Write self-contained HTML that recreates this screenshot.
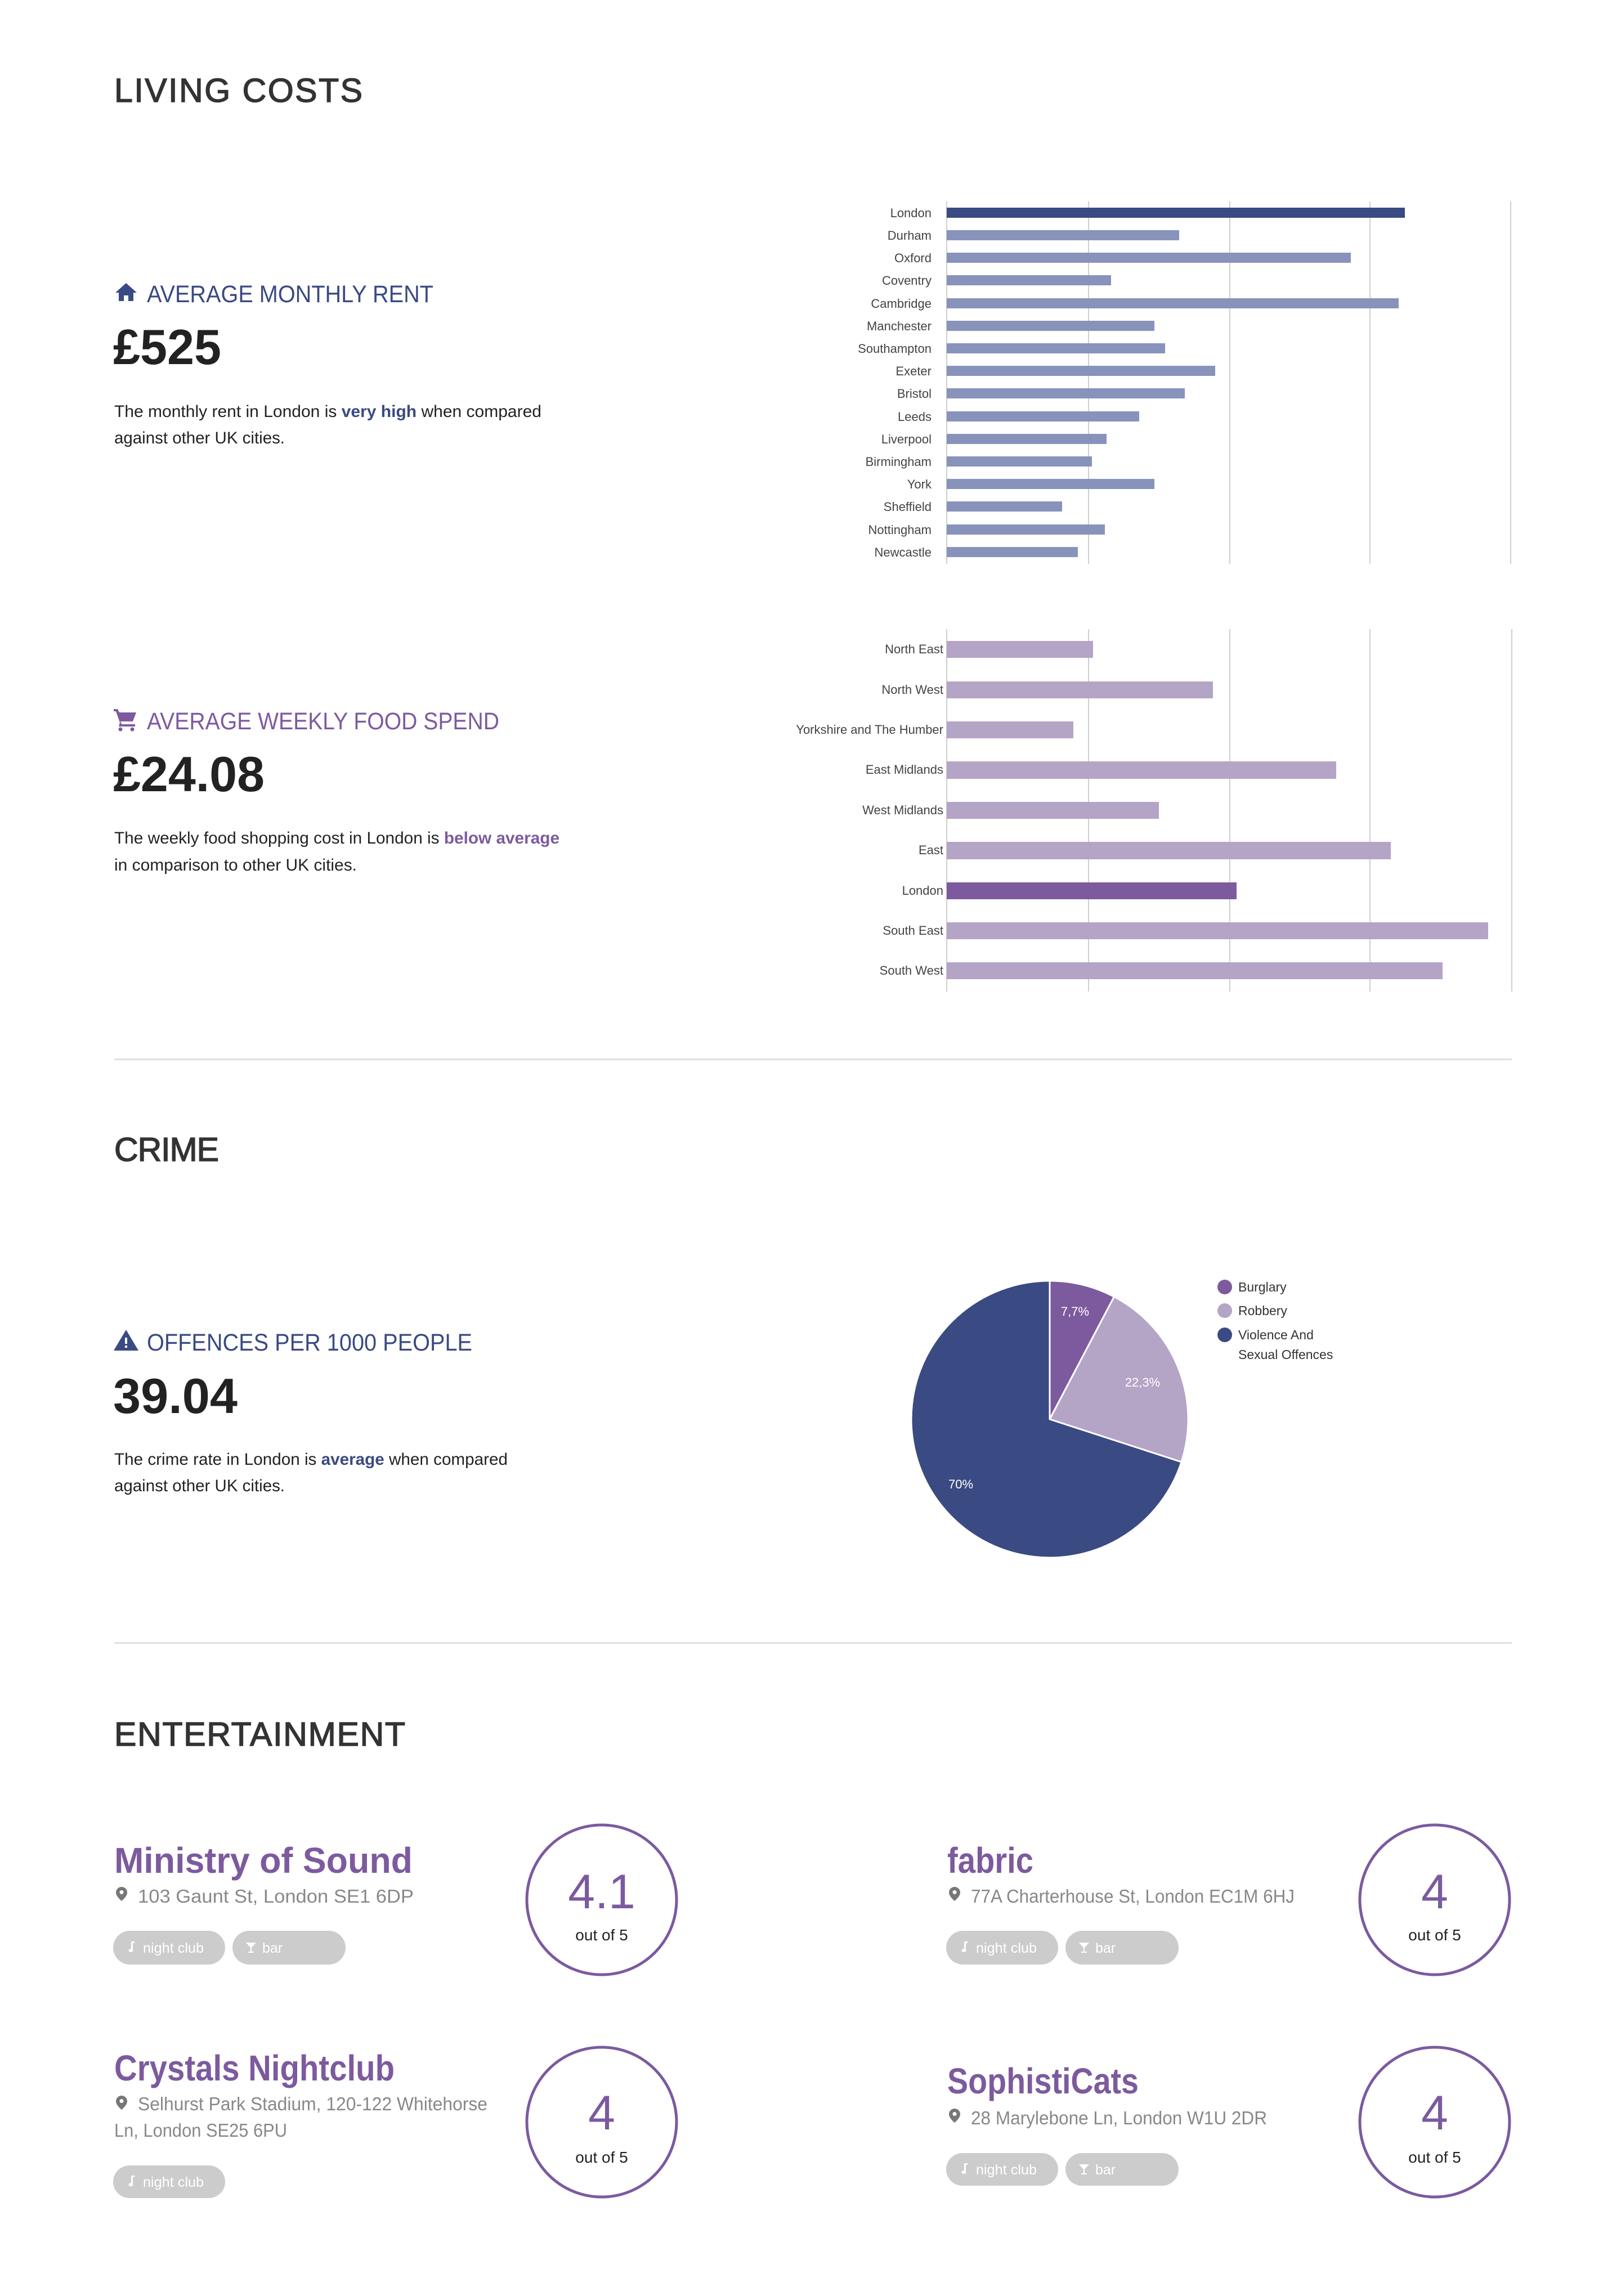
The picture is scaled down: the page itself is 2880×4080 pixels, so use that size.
<!DOCTYPE html>
<html><head><meta charset="utf-8"><style>
html,body{margin:0;padding:0;background:#fff;}
svg{display:block;}
text{font-family:"Liberation Sans",sans-serif;}
</style></head><body>
<svg width="2880" height="4080" viewBox="0 0 2880 4080" xmlns="http://www.w3.org/2000/svg">
<rect width="2880" height="4080" fill="#fff"/>

<!-- LIVING COSTS -->
<text x="203" y="181" font-size="59" fill="#333" stroke="#333" stroke-width="1.5" textLength="441" lengthAdjust="spacing">LIVING COSTS</text>

<!-- rent block -->
<path d="M224 503 L205 520 L211 520 L211 535 L220 535 L220 525 L228 525 L228 535 L237 535 L237 520 L243 520 Z" fill="#3a4a82"/>
<text x="261" y="537" font-size="43" fill="#3a4a82" textLength="509" lengthAdjust="spacingAndGlyphs">AVERAGE MONTHLY RENT</text>
<text x="201" y="647" font-size="88" font-weight="bold" fill="#222" textLength="192" lengthAdjust="spacingAndGlyphs">£525</text>
<text x="203" y="741" font-size="30" fill="#222" textLength="759" lengthAdjust="spacingAndGlyphs">The monthly rent in London is <tspan font-weight="bold" fill="#3a4a82">very high</tspan> when compared</text>
<text x="203" y="788" font-size="30" fill="#222" textLength="303" lengthAdjust="spacingAndGlyphs">against other UK cities.</text>

<!-- chart 1 -->
<g stroke="#cfcfcf" stroke-width="2">
<line x1="1682" y1="358" x2="1682" y2="1002"/>
<line x1="1934" y1="358" x2="1934" y2="1002"/>
<line x1="2185" y1="358" x2="2185" y2="1002"/>
<line x1="2434" y1="358" x2="2434" y2="1002"/>
<line x1="2684" y1="358" x2="2684" y2="1002"/>
</g>
<g fill="#8793bb">
<rect x="1682" y="369" width="814" height="18" fill="#3a4a82"/>
<rect x="1682" y="409" width="413" height="18"/>
<rect x="1682" y="449" width="718" height="18"/>
<rect x="1682" y="489" width="292" height="18"/>
<rect x="1682" y="530" width="803" height="18"/>
<rect x="1682" y="570" width="369" height="18"/>
<rect x="1682" y="610" width="388" height="18"/>
<rect x="1682" y="650" width="477" height="18"/>
<rect x="1682" y="690" width="423" height="18"/>
<rect x="1682" y="731" width="342" height="18"/>
<rect x="1682" y="771" width="284" height="18"/>
<rect x="1682" y="811" width="258" height="18"/>
<rect x="1682" y="851" width="369" height="18"/>
<rect x="1682" y="891" width="205" height="18"/>
<rect x="1682" y="932" width="281" height="18"/>
<rect x="1682" y="972" width="233" height="18"/>
</g>
<g font-size="22" fill="#444" text-anchor="end">
<text x="1655" y="386">London</text>
<text x="1655" y="426">Durham</text>
<text x="1655" y="466">Oxford</text>
<text x="1655" y="506">Coventry</text>
<text x="1655" y="547">Cambridge</text>
<text x="1655" y="587">Manchester</text>
<text x="1655" y="627">Southampton</text>
<text x="1655" y="667">Exeter</text>
<text x="1655" y="707">Bristol</text>
<text x="1655" y="748">Leeds</text>
<text x="1655" y="788">Liverpool</text>
<text x="1655" y="828">Birmingham</text>
<text x="1655" y="868">York</text>
<text x="1655" y="908">Sheffield</text>
<text x="1655" y="949">Nottingham</text>
<text x="1655" y="989">Newcastle</text>
</g>

<!-- food block -->
<g fill="#7d5a9e">
<path d="M202 1260 L209 1260 L212 1266 L242 1266 L236 1282 L214 1282 L216 1287 L240 1287 L240 1291 L211 1291 L213 1284 L206 1264 L202 1264 Z"/>
<circle cx="214" cy="1296" r="3.5"/><circle cx="235" cy="1296" r="3.5"/>
</g>
<text x="261" y="1296" font-size="43" fill="#7d5a9e" textLength="626" lengthAdjust="spacingAndGlyphs">AVERAGE WEEKLY FOOD SPEND</text>
<text x="201" y="1406" font-size="88" font-weight="bold" fill="#222" textLength="269" lengthAdjust="spacingAndGlyphs">£24.08</text>
<text x="203" y="1499" font-size="30" fill="#222" textLength="791" lengthAdjust="spacingAndGlyphs">The weekly food shopping cost in London is <tspan font-weight="bold" fill="#7d5a9e">below average</tspan></text>
<text x="203" y="1547" font-size="30" fill="#222" textLength="431" lengthAdjust="spacingAndGlyphs">in comparison to other UK cities.</text>

<!-- chart 2 -->
<g stroke="#cfcfcf" stroke-width="2">
<line x1="1682" y1="1118" x2="1682" y2="1762"/>
<line x1="1934" y1="1118" x2="1934" y2="1762"/>
<line x1="2185" y1="1118" x2="2185" y2="1762"/>
<line x1="2434" y1="1118" x2="2434" y2="1762"/>
<line x1="2686" y1="1118" x2="2686" y2="1762"/>
</g>
<g fill="#b4a4c6">
<rect x="1682" y="1139" width="260" height="30"/>
<rect x="1682" y="1211" width="473" height="30"/>
<rect x="1682" y="1282" width="225" height="30"/>
<rect x="1682" y="1353" width="692" height="31"/>
<rect x="1682" y="1425" width="377" height="30"/>
<rect x="1682" y="1496" width="789" height="31"/>
<rect x="1682" y="1568" width="515" height="30" fill="#7d5a9e"/>
<rect x="1682" y="1639" width="962" height="30"/>
<rect x="1682" y="1710" width="881" height="30"/>
</g>
<g font-size="22" fill="#444" text-anchor="end">
<text x="1676" y="1161">North East</text>
<text x="1676" y="1233">North West</text>
<text x="1676" y="1304">Yorkshire and The Humber</text>
<text x="1676" y="1375">East Midlands</text>
<text x="1676" y="1447">West Midlands</text>
<text x="1676" y="1518">East</text>
<text x="1676" y="1590">London</text>
<text x="1676" y="1661">South East</text>
<text x="1676" y="1732">South West</text>
</g>

<rect x="203" y="1881" width="2483" height="3" fill="#e0e0e0"/>

<!-- CRIME -->
<text x="203" y="2063" font-size="59" fill="#333" stroke="#333" stroke-width="1.5" textLength="186" lengthAdjust="spacing">CRIME</text>
<path d="M224 2363 L246 2400 L202 2400 Z" fill="#3a4a82"/>
<rect x="222" y="2377" width="4" height="11" fill="#fff"/><rect x="222" y="2391" width="4" height="4" fill="#fff"/>
<text x="261" y="2400" font-size="43" fill="#3a4a82" textLength="578" lengthAdjust="spacingAndGlyphs">OFFENCES PER 1000 PEOPLE</text>
<text x="201" y="2511" font-size="88" font-weight="bold" fill="#222" textLength="221" lengthAdjust="spacingAndGlyphs">39.04</text>
<text x="203" y="2603" font-size="30" fill="#222" textLength="699" lengthAdjust="spacingAndGlyphs">The crime rate in London is <tspan font-weight="bold" fill="#3a4a82">average</tspan> when compared</text>
<text x="203" y="2650" font-size="30" fill="#222" textLength="303" lengthAdjust="spacingAndGlyphs">against other UK cities.</text>

<!-- pie -->
<g stroke="#fff" stroke-width="3" stroke-linejoin="round">
<path d="M1865 2522 L1865 2276 A246 246 0 0 1 1979.4 2304.3 Z" fill="#7d5a9e"/>
<path d="M1865 2522 L1979.4 2304.3 A246 246 0 0 1 2099 2598 Z" fill="#b4a4c6"/>
<path d="M1865 2522 L2099 2598 A246 246 0 1 1 1865 2276 Z" fill="#3a4a82"/>
</g>
<g font-size="22" fill="#fff" text-anchor="middle">
<text x="1910" y="2338">7,7%</text>
<text x="2030" y="2464">22,3%</text>
<text x="1707" y="2645">70%</text>
</g>
<circle cx="2176" cy="2287" r="13" fill="#7d5a9e"/>
<circle cx="2176" cy="2329" r="13" fill="#b4a4c6"/>
<circle cx="2176" cy="2372" r="13" fill="#3a4a82"/>
<g font-size="23" fill="#333">
<text x="2200" y="2295">Burglary</text>
<text x="2200" y="2337">Robbery</text>
<text x="2200" y="2380">Violence And</text>
<text x="2200" y="2415">Sexual Offences</text>
</g>

<rect x="203" y="2918" width="2483" height="3" fill="#e0e0e0"/>

<!-- ENTERTAINMENT -->
<text x="203" y="3102" font-size="59" fill="#333" stroke="#333" stroke-width="1.5" textLength="517" lengthAdjust="spacing">ENTERTAINMENT</text>

<defs>
<g id="pin"><path d="M10 0 C4.5 0 0 4.5 0 10 C0 17 10 25 10 25 C10 25 20 17 20 10 C20 4.5 15.5 0 10 0 Z" fill="#777"/><circle cx="10" cy="9.5" r="3.5" fill="#fff"/></g>
<g id="note"><rect x="4" y="0" width="3" height="16" fill="#fff"/><rect x="4" y="0" width="6" height="3" fill="#fff"/><ellipse cx="3.5" cy="16" rx="4" ry="3" fill="#fff"/></g>
<g id="glass"><path d="M0 0 L18 0 L9 10 Z" fill="#fff"/><rect x="8" y="9" width="2" height="8" fill="#fff"/><rect x="4" y="16" width="10" height="2" fill="#fff"/></g>
</defs>

<!-- Ministry of Sound -->
<text x="203" y="3328" font-size="64" font-weight="bold" fill="#7d5a9e" textLength="530" lengthAdjust="spacingAndGlyphs">Ministry of Sound</text>
<use href="#pin" x="206" y="3353"/>
<text x="245" y="3381" font-size="33" fill="#888" textLength="490" lengthAdjust="spacingAndGlyphs">103 Gaunt St, London SE1 6DP</text>
<rect x="201" y="3431" width="199" height="60" rx="30" fill="#cccccc"/>
<use href="#note" x="229" y="3450"/>
<text x="254" y="3470" font-size="25" fill="#fff" textLength="108" lengthAdjust="spacingAndGlyphs">night club</text>
<rect x="413" y="3431" width="201" height="60" rx="30" fill="#cccccc"/>
<use href="#glass" x="437" y="3452"/>
<text x="466" y="3470" font-size="25" fill="#fff">bar</text>
<circle cx="1069" cy="3376" r="133" fill="none" stroke="#7b5aa0" stroke-width="5"/>
<text x="1069" y="3391" font-size="86" fill="#7b5aa0" text-anchor="middle">4.1</text>
<text x="1069" y="3448" font-size="28" fill="#222" text-anchor="middle">out of 5</text>

<!-- Crystals -->
<text x="203" y="3697" font-size="64" font-weight="bold" fill="#7d5a9e" textLength="498" lengthAdjust="spacingAndGlyphs">Crystals Nightclub</text>
<use href="#pin" x="206" y="3724"/>
<text x="245" y="3750" font-size="33" fill="#888" textLength="621" lengthAdjust="spacingAndGlyphs">Selhurst Park Stadium, 120-122 Whitehorse</text>
<text x="203" y="3797" font-size="33" fill="#888" textLength="307" lengthAdjust="spacingAndGlyphs">Ln, London SE25 6PU</text>
<rect x="201" y="3848" width="199" height="58" rx="29" fill="#cccccc"/>
<use href="#note" x="229" y="3866"/>
<text x="254" y="3886" font-size="25" fill="#fff" textLength="108" lengthAdjust="spacingAndGlyphs">night club</text>
<circle cx="1069" cy="3771" r="133" fill="none" stroke="#7b5aa0" stroke-width="5"/>
<text x="1069" y="3784" font-size="86" fill="#7b5aa0" text-anchor="middle">4</text>
<text x="1069" y="3843" font-size="28" fill="#222" text-anchor="middle">out of 5</text>

<!-- fabric -->
<text x="1683" y="3328" font-size="64" font-weight="bold" fill="#7d5a9e" textLength="153" lengthAdjust="spacingAndGlyphs">fabric</text>
<use href="#pin" x="1686" y="3353"/>
<text x="1725" y="3381" font-size="33" fill="#888" textLength="575" lengthAdjust="spacingAndGlyphs">77A Charterhouse St, London EC1M 6HJ</text>
<rect x="1681" y="3431" width="199" height="60" rx="30" fill="#cccccc"/>
<use href="#note" x="1709" y="3450"/>
<text x="1734" y="3470" font-size="25" fill="#fff" textLength="108" lengthAdjust="spacingAndGlyphs">night club</text>
<rect x="1893" y="3431" width="201" height="60" rx="30" fill="#cccccc"/>
<use href="#glass" x="1917" y="3452"/>
<text x="1946" y="3470" font-size="25" fill="#fff">bar</text>
<circle cx="2549" cy="3376" r="133" fill="none" stroke="#7b5aa0" stroke-width="5"/>
<text x="2549" y="3391" font-size="86" fill="#7b5aa0" text-anchor="middle">4</text>
<text x="2549" y="3448" font-size="28" fill="#222" text-anchor="middle">out of 5</text>

<!-- SophistiCats -->
<text x="1683" y="3720" font-size="64" font-weight="bold" fill="#7d5a9e" textLength="340" lengthAdjust="spacingAndGlyphs">SophistiCats</text>
<use href="#pin" x="1686" y="3747"/>
<text x="1725" y="3775" font-size="33" fill="#888" textLength="526" lengthAdjust="spacingAndGlyphs">28 Marylebone Ln, London W1U 2DR</text>
<rect x="1681" y="3826" width="199" height="58" rx="29" fill="#cccccc"/>
<use href="#note" x="1709" y="3844"/>
<text x="1734" y="3864" font-size="25" fill="#fff" textLength="108" lengthAdjust="spacingAndGlyphs">night club</text>
<rect x="1893" y="3826" width="201" height="58" rx="29" fill="#cccccc"/>
<use href="#glass" x="1917" y="3846"/>
<text x="1946" y="3864" font-size="25" fill="#fff">bar</text>
<circle cx="2549" cy="3771" r="133" fill="none" stroke="#7b5aa0" stroke-width="5"/>
<text x="2549" y="3784" font-size="86" fill="#7b5aa0" text-anchor="middle">4</text>
<text x="2549" y="3843" font-size="28" fill="#222" text-anchor="middle">out of 5</text>
</svg>
</body></html>
